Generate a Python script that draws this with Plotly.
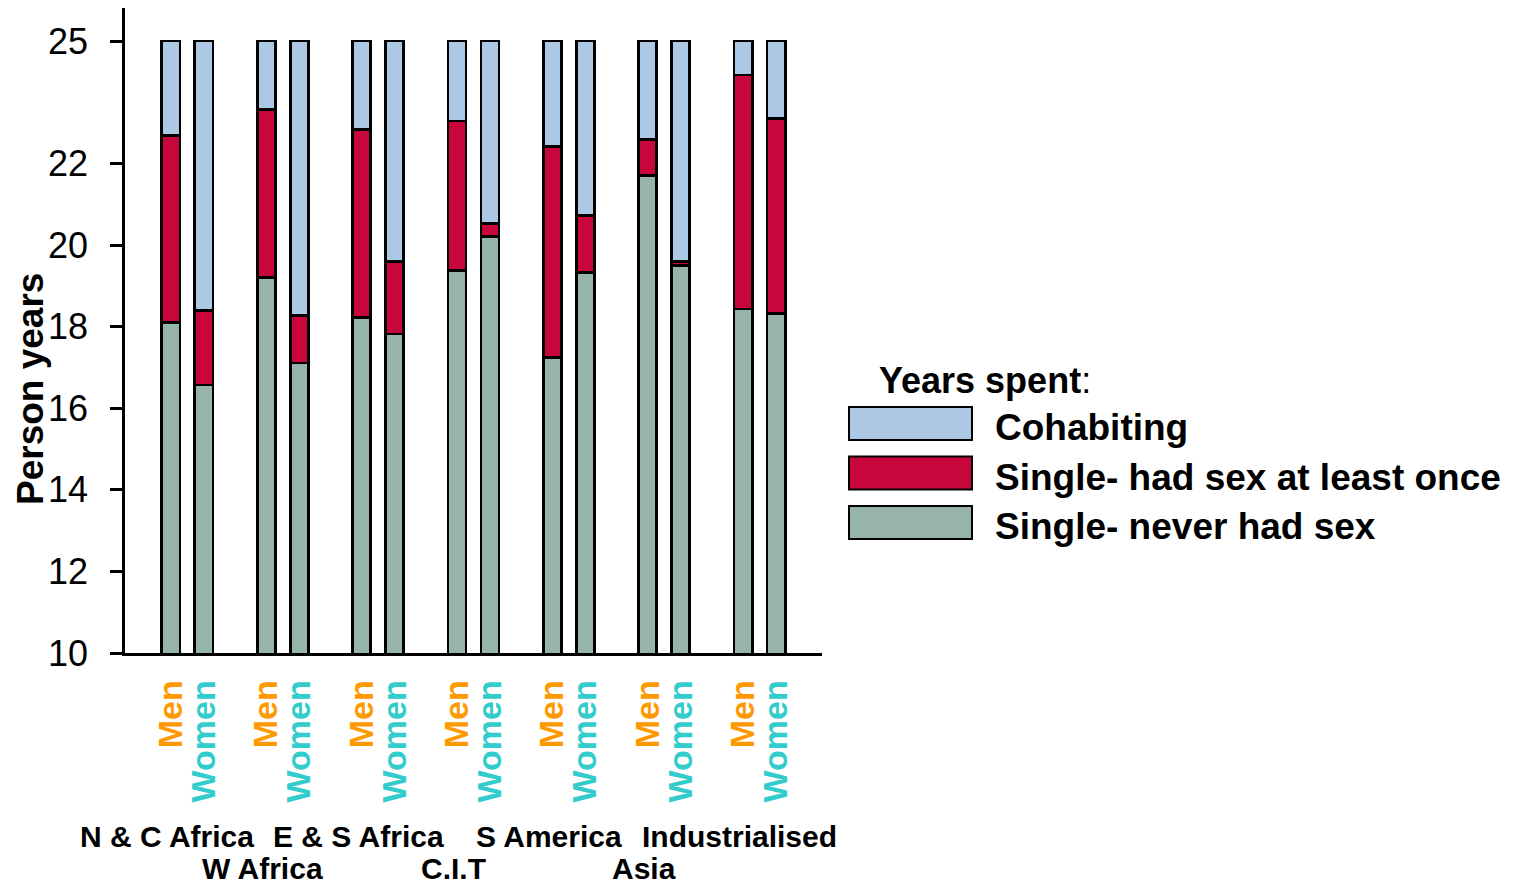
import plotly.graph_objects as go

# ---------------- data ----------------
regions = ["N & C Africa", "W Africa", "E & S Africa", "C.I.T", "S America", "Asia", "Industrialised"]
sexes = ["Men", "Women"]
# age (person years) at end of "single - never had sex"
men_never = [18.10, 19.21, 18.23, 19.37, 17.25, 21.71, 18.43]
women_never = [16.57, 17.11, 17.82, 20.20, 19.32, 19.50, 18.33]
# age at start of cohabiting (end of "single - had sex at least once")
men_cohab_start = [22.69, 23.33, 22.84, 23.04, 22.42, 22.59, 24.17]
women_cohab_start = [18.40, 18.27, 19.60, 20.53, 20.73, 19.60, 23.10]
end_age = 25
y_ticks = [10, 12, 14, 16, 18, 20, 22, 25]
series_names = ["Cohabiting", "Single- had sex at least once", "Single- never had sex"]
colors = {"Cohabiting": "#ADC8E4", "Single- had sex at least once": "#C8063C",
          "Single- never had sex": "#96B4AC"}
sex_colors = {"Men": "#FF9900", "Women": "#33CCCC"}

# ---------------- geometry helpers ----------------
W, H = 1513, 889
L, R, T, B = 125, 822, 8, 653
off = 0.1728
bw = 0.19

def px_x(px):
    return (px - L) / (R - L)

def px_y(py):
    return (B - py) / (B - T)

xs, never, had, cohab, tick_text = [], [], [], [], []
for g in range(len(regions)):
    for s, nv, cs in ((0, men_never[g], men_cohab_start[g]), (1, women_never[g], women_cohab_start[g])):
        xs.append(g + (off if s else -off))
        never.append(nv)
        had.append(cs - nv)
        cohab.append(end_age - cs)
        sx = sexes[s]
        tick_text.append(f'<span style="color:{sex_colors[sx]}">{sx}</span>')

FONT = "Liberation Sans, Arial, sans-serif"

fig = go.Figure()
for name, vals in (("Single- never had sex", never), ("Single- had sex at least once", had), ("Cohabiting", cohab)):
    fig.add_trace(go.Bar(x=xs, y=vals, width=bw, name=name,
                         marker=dict(color=colors[name], line=dict(color="black", width=2.8)),
                         showlegend=False))

fig.update_layout(
    width=W, height=H, barmode="stack",
    margin=dict(l=L, r=W - R, t=T, b=H - B, pad=0),
    plot_bgcolor="white", paper_bgcolor="white",
    font=dict(family=FONT, color="black"),
)
fig.update_xaxes(range=[-0.654, 6.654], tickvals=xs, ticktext=tick_text, tickangle=-90,
                 ticks="", showgrid=False, zeroline=False, showline=True, linecolor="black",
                 linewidth=2.5, tickfont=dict(family=FONT, size=34, weight="bold"),
                 ticklabelstandoff=11)
fig.update_yaxes(range=[10, 25.81], tickvals=y_ticks, ticktext=[str(v) for v in y_ticks],
                 ticks="outside", ticklen=12, tickwidth=2.5, tickcolor="black",
                 showgrid=False, zeroline=False, showline=True, linecolor="black", linewidth=2.5,
                 tickfont=dict(family=FONT, size=36), ticklabelstandoff=15)

ann = []
# y title
ann.append(dict(text="<b>Person years</b>", x=px_x(30), y=px_y(389), xref="paper", yref="paper",
                textangle=-90, showarrow=False, font=dict(family=FONT, size=37),
                xanchor="center", yanchor="middle"))
# region labels, staggered
for g, reg in enumerate(regions):
    row_y = 836 if g % 2 == 0 else 869
    ann.append(dict(text=f"<b>{reg}</b>", x=g, xref="x", y=px_y(row_y), yref="paper",
                    xshift=-20, showarrow=False, font=dict(family=FONT, size=30),
                    xanchor="center", yanchor="middle"))
# legend
ann.append(dict(text="<b>Years spent</b>:", x=px_x(877), y=px_y(380), xref="paper", yref="paper",
                showarrow=False, xanchor="left", yanchor="middle", font=dict(family=FONT, size=36)))
shapes = []
for i, name in enumerate(series_names):
    cy = 423.5 + 49.5 * i
    shapes.append(dict(type="rect", xref="paper", yref="paper",
                       x0=px_x(849), x1=px_x(972), y0=px_y(cy - 16.5), y1=px_y(cy + 16.5),
                       fillcolor=colors[name], line=dict(color="black", width=2)))
    ann.append(dict(text=f"<b>{name}</b>", x=px_x(993), y=px_y(cy + 4), xref="paper", yref="paper",
                    showarrow=False, xanchor="left", yanchor="middle", font=dict(family=FONT, size=37)))

fig.update_layout(annotations=ann, shapes=shapes)
fig.write_html("out.html", config={"displayModeBar": False},
               post_script="document.body.style.margin='0';document.body.style.overflow='hidden';")
